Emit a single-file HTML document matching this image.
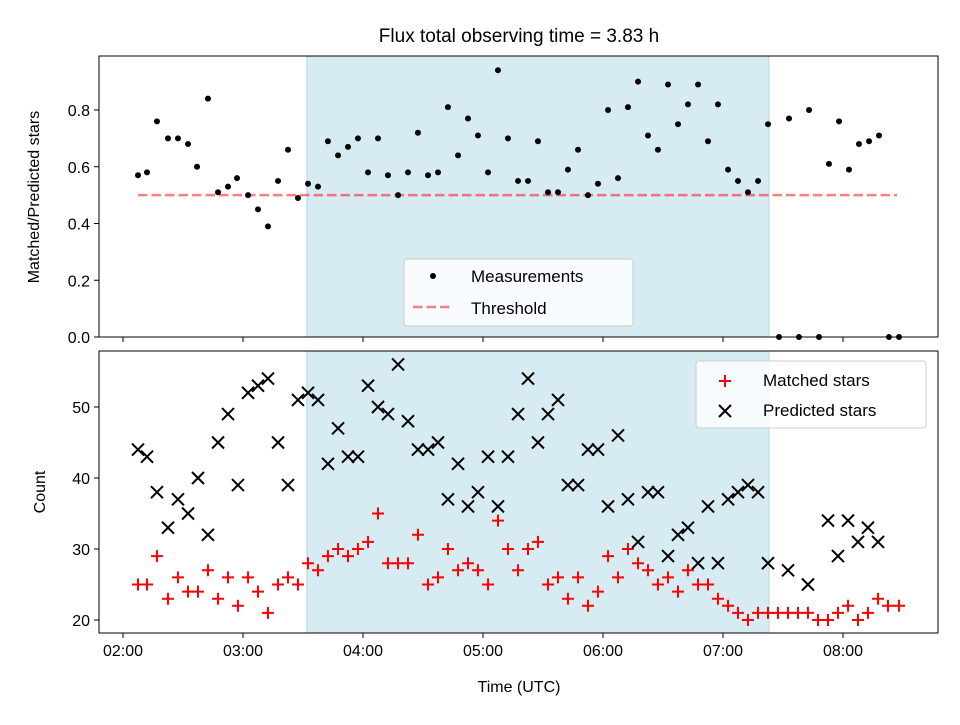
<!DOCTYPE html>
<html><head><meta charset="utf-8"><style>
body{margin:0;background:#fff;}
svg text{font-family:"Liberation Sans","DejaVu Sans",sans-serif;fill:#000;}
</style></head><body>
<svg id="c" width="960" height="720" xmlns="http://www.w3.org/2000/svg">
<rect width="960" height="720" fill="#fff"/>
<text x="519" y="42" font-size="19" text-anchor="middle">Flux total observing time = 3.83 h</text>
<g id="topPanel"></g>
<g id="botPanel"></g>
</svg>
<script>
// times in hours (UTC)
const topTimes=[2.125,2.2,2.283,2.375,2.458,2.542,2.617,2.708,2.792,2.875,2.95,3.042,3.125,3.208,3.292,3.375,3.458,3.542,3.625,3.708,3.792,3.875,3.958,4.042,4.125,4.208,4.292,4.375,4.458,4.542,4.625,4.708,4.792,4.875,4.958,5.042,5.125,5.208,5.292,5.375,5.458,5.542,5.625,5.708,5.792,5.875,5.958,6.042,6.125,6.208,6.292,6.375,6.458,6.542,6.625,6.708,6.792,6.875,6.958,7.042,7.125,7.208,7.292,7.375,7.55,7.717,7.883,7.967,8.05,8.133,8.217,8.3];
const topRatios=[0.57,0.58,0.76,0.70,0.70,0.68,0.60,0.84,0.51,0.53,0.56,0.50,0.45,0.39,0.55,0.66,0.49,0.54,0.53,0.69,0.64,0.67,0.70,0.58,0.70,0.57,0.50,0.58,0.72,0.57,0.58,0.81,0.64,0.77,0.71,0.58,0.94,0.70,0.55,0.55,0.69,0.51,0.51,0.59,0.66,0.50,0.54,0.80,0.56,0.81,0.90,0.71,0.66,0.89,0.75,0.82,0.89,0.69,0.82,0.59,0.55,0.51,0.55,0.75,0.77,0.80,0.61,0.76,0.59,0.68,0.69,0.71];
const zeroTimes=[7.467,7.633,7.8,8.383,8.467];
const zeroRatios=[0,0,0,0,0];
const threshold=0.5;
const botTimes=[2.125,2.2,2.283,2.375,2.458,2.542,2.625,2.708,2.792,2.875,2.958,3.042,3.125,3.208,3.292,3.375,3.458,3.542,3.625,3.708,3.792,3.875,3.958,4.042,4.125,4.208,4.292,4.375,4.458,4.542,4.625,4.708,4.792,4.875,4.958,5.042,5.125,5.208,5.292,5.375,5.458,5.542,5.625,5.708,5.792,5.875,5.958,6.042,6.125,6.208,6.292,6.375,6.458,6.542,6.625,6.708,6.792,6.875,6.958,7.042,7.125,7.208,7.292,7.375,7.458,7.542,7.625,7.708,7.792,7.875,7.958,8.042,8.125,8.208,8.292,8.375,8.467];
const matched=[25,25,29,23,26,24,24,27,23,26,22,26,24,21,25,26,25,28,27,29,30,29,30,31,35,28,28,28,32,25,26,30,27,28,27,25,34,30,27,30,31,25,26,23,26,22,24,29,26,30,28,27,25,26,24,27,25,25,23,22,21,20,21,21,21,21,21,21,20,20,21,22,20,21,23,22,22];
const predicted=[44,43,38,33,37,35,40,32,45,49,39,52,53,54,45,39,51,52,51,42,47,43,43,53,50,49,56,48,44,44,45,37,42,36,38,43,36,43,49,54,45,49,51,39,39,44,44,36,46,37,31,38,38,29,32,33,28,36,28,37,38,39,38,28,null,27,null,25,null,34,29,34,31,33,31,null,null];
const yTopTicks=[0,0.2,0.4,0.6,0.8];
const yBotTicks=[20,30,40,50];
const xTicks=[2,3,4,5,6,7,8];
const xTickLabels=["02:00","03:00","04:00","05:00","06:00","07:00","08:00"];
const shade=[3.533,7.383];

const NS="http://www.w3.org/2000/svg";
const L=99,R=938;
const xs=t=>123+(t-2)*120;
const yT=v=>337-v*283.75;
const yB=v=>620-(v-20)*7.1;
function mk(p,tag,a){const e=document.createElementNS(NS,tag);for(const k in a)e.setAttribute(k,a[k]);p.appendChild(e);return e;}
const topG=document.getElementById('topPanel'),botG=document.getElementById('botPanel');

function panel(g,y0,y1,isTop){
  const s=mk(g,'rect',{x:xs(shade[0]),y:y0,width:xs(shade[1])-xs(shade[0]),height:y1-y0,fill:'#add8e6','fill-opacity':0.5,stroke:'#add8e6'});
  
  
  xTicks.forEach((t,i)=>{
    const tk=mk(g,'line',{x1:xs(t),x2:xs(t),y1:y1,y2:y1+5,stroke:'#000','stroke-width':1});
    
    
    if(!isTop){
      const tx=mk(g,'text',{x:xs(t),y:y1+23,'font-size':16,'text-anchor':'middle'});
      tx.textContent=xTickLabels[i];
      
      
    }
  });
}
panel(topG,56,337,true);
panel(botG,351,633,false);

yTopTicks.forEach(v=>{
  const y=yT(v);
  const tk=mk(topG,'line',{x1:94,x2:99,y1:y,y2:y,stroke:'#000'});
  
  
  const tx=mk(topG,'text',{x:90,y:y+6,'font-size':16,'text-anchor':'end'});
  tx.textContent=v.toFixed(1);
  
  
});
yBotTicks.forEach(v=>{
  const y=yB(v);
  const tk=mk(botG,'line',{x1:94,x2:99,y1:y,y2:y,stroke:'#000'});
  
  
  const tx=mk(botG,'text',{x:90,y:y+6,'font-size':16,'text-anchor':'end'});
  tx.textContent=v;
  
  
});

const th=mk(topG,'line',{x1:xs(topTimes[0]),x2:xs(8.45),y1:yT(threshold),y2:yT(threshold),stroke:'#ff0000','stroke-opacity':0.5,'stroke-width':2.5,'stroke-dasharray':'9.5,4'});



topTimes.forEach((t,i)=>{
  const c=mk(topG,'circle',{cx:xs(t),cy:yT(topRatios[i]),r:3,fill:'#000'});
  
  
});
zeroTimes.forEach((t,i)=>{
  const c=mk(topG,'circle',{cx:xs(t),cy:yT(zeroRatios[i]),r:3,fill:'#000'});
  
  
});

function plus(g,x,y){return mk(g,'path',{d:`M${x-6},${y}H${x+6}M${x},${y-6}V${y+6}`,stroke:'#ff0000','stroke-width':2});}
function cross(g,x,y){return mk(g,'path',{d:`M${x-6},${y-6}L${x+6},${y+6}M${x-6},${y+6}L${x+6},${y-6}`,stroke:'#000','stroke-width':2});}
botTimes.forEach((t,i)=>{
  const p=plus(botG,xs(t),yB(matched[i]));
  
  
});
botTimes.forEach((t,i)=>{
  if(predicted[i]==null)return;
  const p=cross(botG,xs(t),yB(predicted[i]));
  
  
});

[[topG,56,337],[botG,351,633]].forEach(([g,a,b])=>{
  const f=mk(g,'rect',{x:L,y:a,width:R-L,height:b-a,fill:'none',stroke:'#000','stroke-width':1});
  
  
});

let t1=mk(topG,'text',{x:0,y:0,'font-size':16,'text-anchor':'middle',transform:'translate(39,197) rotate(-90)'});
t1.textContent='Matched/Predicted stars';


let t2=mk(botG,'text',{x:0,y:0,'font-size':16,'text-anchor':'middle',transform:'translate(45,492) rotate(-90)'});
t2.textContent='Count';


let t3=mk(botG,'text',{x:519,y:692,'font-size':16,'text-anchor':'middle'});
t3.textContent='Time (UTC)';



let lg1=mk(topG,'g',{});


mk(lg1,'rect',{x:404,y:259,width:229,height:67,rx:3,fill:'#fff','fill-opacity':0.8,stroke:'#ccc'});
mk(lg1,'circle',{cx:433,cy:276,r:3,fill:'#000'});
mk(lg1,'line',{x1:413,x2:453,y1:307,y2:307,stroke:'#ff0000','stroke-opacity':0.5,'stroke-width':2.5,'stroke-dasharray':'9.5,4'});
let a=mk(lg1,'text',{x:471,y:282,'font-size':17});a.textContent='Measurements';
let b=mk(lg1,'text',{x:471,y:314,'font-size':17});b.textContent='Threshold';

let lg2=mk(botG,'g',{});


mk(lg2,'rect',{x:696,y:361,width:230,height:67,rx:3,fill:'#fff','fill-opacity':0.8,stroke:'#ccc'});
plus(lg2,725,381);cross(lg2,725,411);
let c1=mk(lg2,'text',{x:763,y:386,'font-size':17});c1.textContent='Matched stars';
let c2=mk(lg2,'text',{x:763,y:416,'font-size':17});c2.textContent='Predicted stars';
</script>
</body></html>
